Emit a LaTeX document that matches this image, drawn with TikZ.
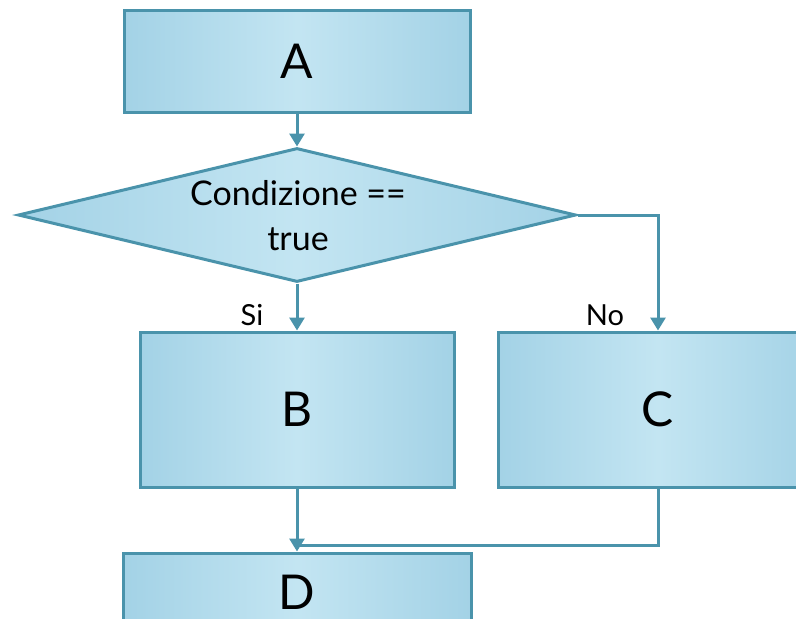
\documentclass[tikz,border=0pt]{standalone}
\usepackage{fontspec}
\setmainfont{Lato}
\usetikzlibrary{shapes.geometric,arrows.meta}
\definecolor{edgec}{HTML}{4A93AB}
\definecolor{fillL}{HTML}{A3D2E6}
\definecolor{fillM}{HTML}{C3E5F2}
\tikzset{
  box/.style={draw=edgec, line width=3pt, left color=fillL, right color=fillL, middle color=fillM,
    font=\fontsize{48}{50}\selectfont, inner sep=0pt},
  cond/.style={shape=diamond, draw=edgec, line width=3pt, left color=fillL, right color=fillL, middle color=fillM,
    inner sep=0pt, aspect=4.164, minimum width=558pt, minimum height=134pt},
  condtext/.style={font=\fontsize{34}{45}\selectfont, align=center, inner sep=0pt},
  lbl/.style={font=\fontsize{29}{30}\selectfont, inner sep=0pt, anchor=base},
  conn/.style={draw=edgec, line width=3pt},
  arr/.style={conn, -{Triangle[width=15pt,length=13pt]}}
}
\begin{document}
\begin{tikzpicture}[x=1pt,y=-1pt]
\useasboundingbox (0,0) rectangle (796,619);
\node[box, minimum width=346pt, minimum height=102pt] (A) at (297,61) {A};
\node[cond] (C0) at (297,215) {};
\node[condtext] (ct) at (298,216) {Condizione ==\\true};
\node[box, minimum width=314pt, minimum height=155pt] (B) at (297,409.5) {B};
\node[box, minimum width=320pt, minimum height=155pt] (C) at (658,409.5) {C};
\node[box, minimum width=348pt, minimum height=78pt] (D) at (297,592) {D};
\node[lbl] (si) at (252,325) {Si};
\node[lbl] (no) at (605,325) {No};
\coordinate (j) at (297,545);
\draw[arr] (A.south) -- (C0.north);
\draw[arr] (C0.south) -- (B.north);
\draw[arr] (C0.east) -| (C.north);
\draw[arr] (B.south) -- (D.north);
\draw[conn] (C.south) |- (j);
\end{tikzpicture}
\end{document}
